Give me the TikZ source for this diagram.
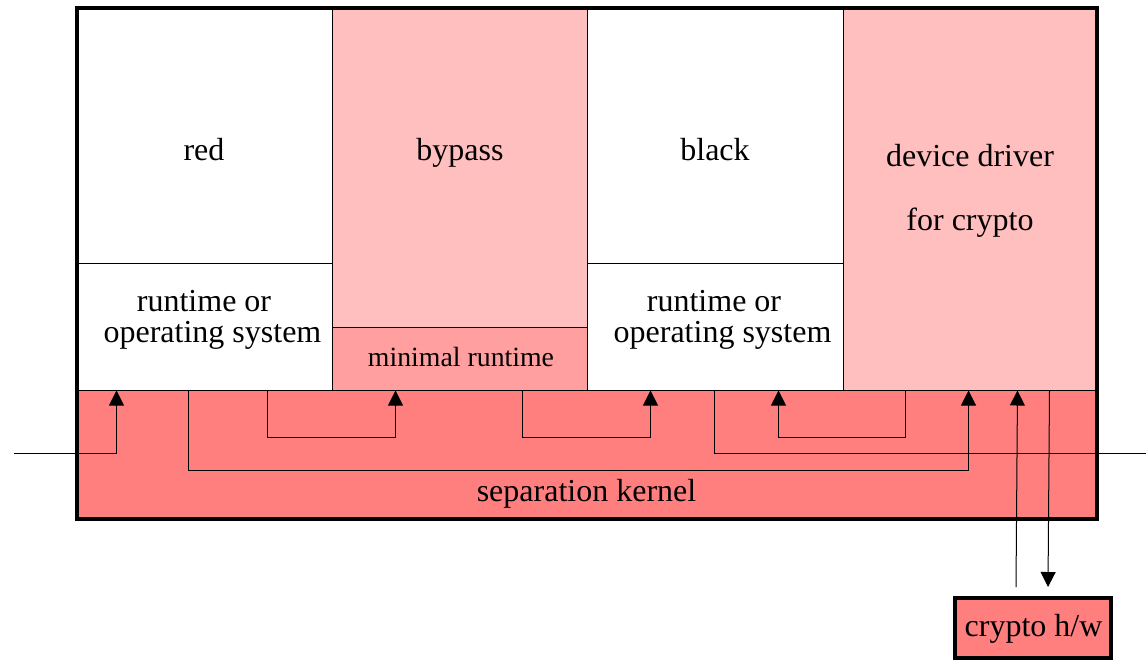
\documentclass[tikz,border=0pt]{standalone}
\usepackage{fontspec}
\setmainfont{Liberation Serif}
\usetikzlibrary{fit,arrows.meta,calc}
\definecolor{pinkA}{HTML}{FFBFBF}
\definecolor{pinkB}{HTML}{FF9F9F}
\definecolor{pinkC}{HTML}{FF7F7F}
\begin{document}
\begin{tikzpicture}[x=0.5pt,y=-0.5pt,
  box/.style={draw, line width=0.5pt, inner sep=0pt},
  thickbox/.style={draw, line width=2pt, inner sep=0pt},
  lab/.style={font=\fontsize{16}{19}\selectfont, inner sep=0pt, anchor=base},
  smalllab/.style={font=\fontsize{13.9}{16}\selectfont, inner sep=0pt, anchor=base},
  link/.style={line width=0.5pt},
  arr/.style={link, -{Triangle[width=7.5pt,length=7.5pt]}}]
\useasboundingbox (0,0) rectangle (1146,660);
% boxes
\node[box, fill=pinkC, fit={(77,390)(1097,519)}] (kernel) {};
\node[box, fill=white, fit={(77,8)(332,263)}] (red) {};
\node[box, fill=white, fit={(77,263)(332,390)}] (redrt) {};
\node[box, fill=pinkA, fit={(332,8)(587,327)}] (bypass) {};
\node[box, fill=pinkB, fit={(332,327)(587,390)}] (minrt) {};
\node[box, fill=white, fit={(587,8)(843,263)}] (black) {};
\node[box, fill=white, fit={(587,263)(843,390)}] (blackrt) {};
\node[box, fill=pinkA, fit={(843,8)(1097,390)}] (driver) {};
\node[thickbox, fill=pinkC, fit={(955,598)(1111,658)}] (crypto) {};
% labels
\node[lab] (tred) at (204,160) {red};
\node[lab] (tbypass) at (460,160) {bypass};
\node[lab] (tblack) at (715,160) {black};
\node[lab] (tdd1) at (970,166) {device driver};
\node[lab] (tdd2) at (970,230) {for crypto};
\node[lab] (trt1) at (204,311) {runtime or};
\node[lab] (trt2) at (212.5,342) {operating system};
\node[lab] (tbrt1) at (714,311) {runtime or};
\node[lab] (tbrt2) at (722.5,342) {operating system};
\node[smalllab] (tmin) at (461,366) {minimal runtime};
\node[lab] (tker) at (586.5,501.5) {separation kernel};
\node[lab] (tcry) at (1033.5,636.5) {crypto h/w};
% connectors
\coordinate (inL) at (14,453);
\coordinate (outR) at (1146,453);
\draw[arr] (inL) -| ($(redrt.south west)+(40,0)$);
\draw[arr] ($(redrt.south west)+(112,0)$) -- ++(0,80) -| ($(driver.south west)+(126,0)$);
\draw[arr] ($(redrt.south west)+(191,0)$) -- ++(0,47) -| ($(minrt.south west)+(64,0)$);
\draw[arr] ($(minrt.south west)+(191,0)$) -- ++(0,47) -| ($(blackrt.south west)+(64,0)$);
\draw[link] ($(blackrt.south west)+(128,0)$) |- (outR);
\draw[arr] ($(driver.south west)+(63,0)$) -- ++(0,47) -| ($(blackrt.south west)+(192,0)$);
\draw[arr] ($(crypto.north west)+(63,-9)$) -- ($(driver.south west)+(175,0)$);
\draw[arr] ($(driver.south west)+(207,0)$) -- ($(crypto.north west)+(95,-9)$);
% outer frame
\node[thickbox, fit={(77,8)(1097,519)}] (frame) {};
\end{tikzpicture}
\end{document}
